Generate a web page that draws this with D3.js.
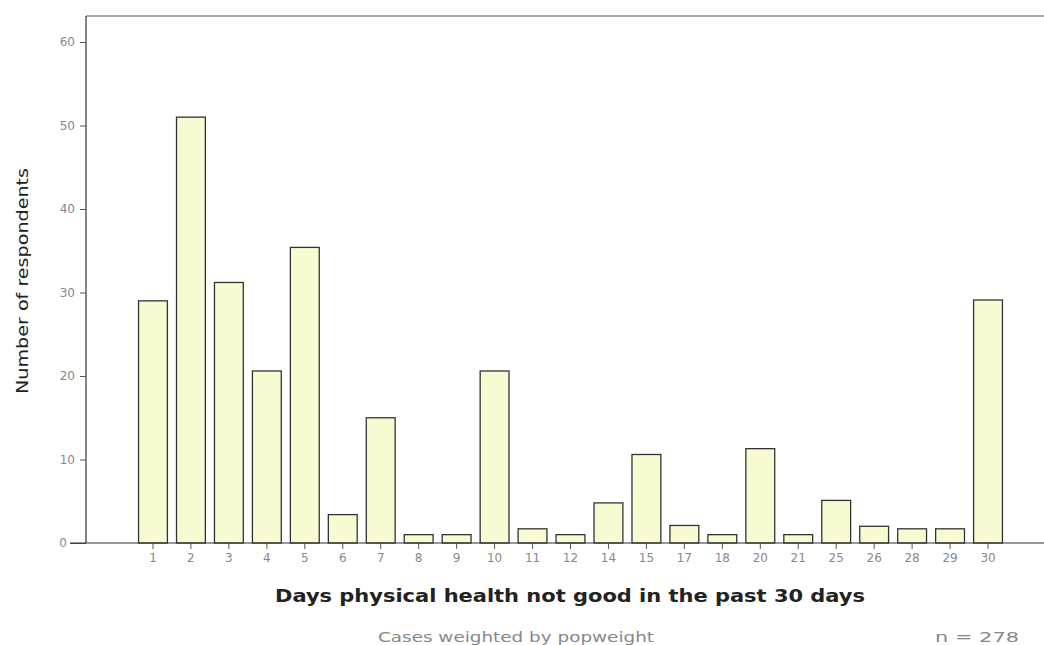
<!DOCTYPE html>
<html>
<head>
<meta charset="utf-8">
<script src="https://cdn.jsdelivr.net/npm/d3@7"></script>
<style>
body { margin: 0; background: #fff; }
svg text { font-family: "DejaVu Sans", Verdana, sans-serif; }
</style>
</head>
<body>
<div id="chart"></div>
<script>
// data
var days = ["1","2","3","4","5","6","7","8","9","10","11","12","14","15","17","18","20","21","25","26","28","29","30"];
var respondents = [29, 51, 31.2, 20.6, 35.4, 3.4, 15, 1, 1, 20.6, 1.7, 1, 4.8, 10.6, 2.1, 1, 11.3, 1, 5.1, 2, 1.7, 1.7, 29.1];
var yTicks = [0, 10, 20, 30, 40, 50, 60];

var W = 1044, H = 645;
var axisX = 86, baseY = 543, topY = 16;

var svg = d3.select("#chart").append("svg").attr("width", W).attr("height", H);

var data = days.map((d, i) => ({day: d, value: respondents[i]}));

var y = d3.scaleLinear().domain([0, 60]).range([baseY, 42]);
var x = d3.scaleBand().domain(days).range([134, 1007]).paddingInner(0.24).paddingOuter(0.12);

// frame lines
svg.append("line").attr("x1", axisX).attr("x2", W).attr("y1", topY).attr("y2", topY)
    .attr("stroke", "#aaa").attr("stroke-width", 2);
svg.append("line").attr("x1", axisX).attr("x2", axisX).attr("y1", topY).attr("y2", baseY)
    .attr("stroke", "#333").attr("stroke-width", 1.2);

// bars
svg.selectAll(".bar").data(data).enter().append("rect")
    .attr("class", "bar")
    .attr("x", d => x(d.day))
    .attr("y", d => y(d.value))
    .attr("width", x.bandwidth())
    .attr("height", d => baseY - y(d.value))
    .attr("fill", "#f8fbd2")
    .attr("stroke", "#333")
    .attr("stroke-width", 1.3);

// y axis
var yAxis = svg.append("g").attr("transform", "translate(" + axisX + ",0)")
    .call(d3.axisLeft(y).tickValues(yTicks).tickSize(6).tickPadding(5));
yAxis.select(".domain").remove();
yAxis.selectAll(".tick line").attr("stroke", "#555");
yAxis.selectAll(".tick text").attr("fill", "#888").style("font-size", "12px");
yAxis.selectAll(".tick").filter(d => d === 0).select("line").attr("x2", -16);
yAxis.selectAll(".tick").filter(d => d === 0).select("text").attr("x", -19);

// x axis
var xAxis = svg.append("g").attr("transform", "translate(0," + baseY + ")")
    .call(d3.axisBottom(x).tickSize(6).tickPadding(4));
xAxis.select(".domain").remove();
xAxis.selectAll(".tick line").attr("stroke", "#555");
xAxis.selectAll(".tick text").attr("fill", "#888").style("font-size", "12px");

svg.append("line").attr("x1", 70).attr("x2", W).attr("y1", baseY).attr("y2", baseY)
    .attr("stroke", "#333").attr("stroke-width", 1.2);

// titles
svg.append("text").attr("transform", "translate(28,281) rotate(-90)")
    .attr("text-anchor", "middle").attr("fill", "#222").style("font-size", "16px")
    .attr("textLength", 226).attr("lengthAdjust", "spacingAndGlyphs")
    .text("Number of respondents");

svg.append("text").attr("x", 570).attr("y", 602)
    .attr("text-anchor", "middle").attr("fill", "#222")
    .style("font-size", "17px").style("font-weight", "bold")
    .attr("textLength", 590).attr("lengthAdjust", "spacingAndGlyphs")
    .text("Days physical health not good in the past 30 days");

svg.append("text").attr("x", 516).attr("y", 642)
    .attr("text-anchor", "middle").attr("fill", "#888").style("font-size", "14px")
    .attr("textLength", 276).attr("lengthAdjust", "spacingAndGlyphs")
    .text("Cases weighted by popweight");

svg.append("text").attr("x", 977).attr("y", 642)
    .attr("text-anchor", "middle").attr("fill", "#888").style("font-size", "14px")
    .attr("textLength", 84).attr("lengthAdjust", "spacingAndGlyphs")
    .text("n = 278");
</script>
</body>
</html>
